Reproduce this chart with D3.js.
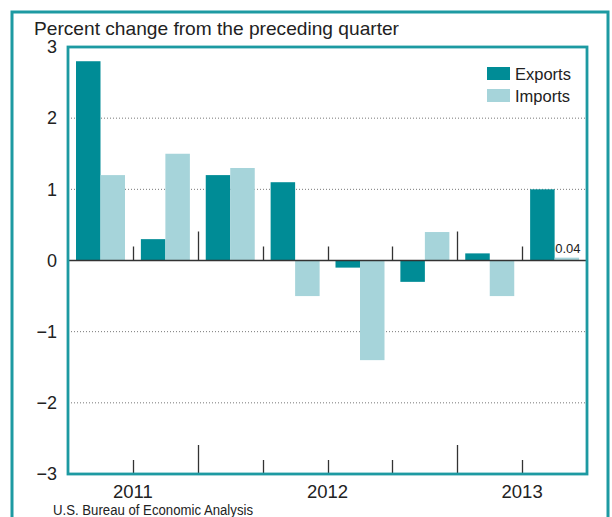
<!DOCTYPE html>
<html><head><meta charset="utf-8">
<script src="https://cdn.jsdelivr.net/npm/d3@7"></script>
<style>body{margin:0;background:#fff;}svg{display:block;font-family:"Liberation Sans",Arial,sans-serif;}</style>
</head><body>
<script>
const quarters = ["2011Q1","2011Q2","2011Q3","2011Q4","2012Q1","2012Q2","2012Q3","2012Q4"];
const exportsVals = [2.8, 0.3, 1.2, 1.1, -0.1, -0.3, 0.1, 1.0];
const importsVals = [1.2, 1.5, 1.3, -0.5, -1.4, 0.4, -0.5, 0.04];
const yTicks = [3, 2, 1, 0, -1, -2, -3];
const yearLabels = [{label:"2011", at:1},{label:"2012", at:4},{label:"2013", at:7}];
const tallTicks = [2, 6];
const seriesNames = ["Exports","Imports"];

const W=612,H=517;
const teal="#008C96", light="#A6D4DA", frame="#1D9AA2";
const svg=d3.select("body").append("svg").attr("width",W).attr("height",H);

// outer frame
svg.append("rect").attr("x",12).attr("y",12).attr("width",596).attr("height",520)
  .attr("fill","none").attr("stroke",frame).attr("stroke-width",3);

svg.append("text").attr("x",34).attr("y",35).attr("font-size",18.5).attr("fill","#222")
  .attr("textLength",365).attr("lengthAdjust","spacingAndGlyphs")
  .text("Percent change from the preceding quarter");

const L=68,R=587,T=47,B=474;
const x=d3.scaleBand().domain(quarters).range([L,R]).paddingInner(0).paddingOuter(0);
const y=d3.scaleLinear().domain([-3,3]).range([B,T]);
const x1=d3.scaleBand().domain(seriesNames).range([8,8+49]);

// gridlines
svg.append("g").selectAll("line").data(yTicks.filter(d=>d!==0&&d!==3&&d!==-3)).join("line")
  .attr("x1",L).attr("x2",R).attr("y1",d=>y(d)).attr("y2",d=>y(d))
  .attr("stroke","#777").attr("stroke-width",1).attr("stroke-dasharray","1,2");

// y labels
const yAxis=d3.axisLeft(y).tickValues(yTicks).tickSize(0).tickPadding(11)
  .tickFormat(d=>d<0?"\u2212"+Math.abs(d):String(d));
const ya=svg.append("g").attr("transform",`translate(${L},0)`).call(yAxis);
ya.select(".domain").remove();
ya.selectAll("text").attr("font-size",18).attr("fill","#222").attr("font-family","Liberation Sans, Arial, sans-serif");

// bars
const g=svg.append("g");
quarters.forEach((q,i)=>{
  [exportsVals[i],importsVals[i]].forEach((v,j)=>{
    g.append("rect").attr("x",x(q)+x1(seriesNames[j])).attr("width",x1.bandwidth())
      .attr("y",y(Math.max(0,v))).attr("height",Math.abs(y(v)-y(0)))
      .attr("fill",j===0?teal:light);
  });
});

// zero line
svg.append("line").attr("x1",L).attr("x2",R).attr("y1",y(0)).attr("y2",y(0)).attr("stroke","#333").attr("stroke-width",1.3);

// boundary ticks
const bounds=d3.range(1,quarters.length);
bounds.forEach(b=>{
  const bx=Math.round(x(quarters[b]))+0.5;
  const tall=tallTicks.includes(b);
  svg.append("line").attr("x1",bx).attr("x2",bx).attr("y1",y(0)).attr("y2",y(0)-(tall?29:14)).attr("stroke","#333").attr("stroke-width",1.3);
  svg.append("line").attr("x1",bx).attr("x2",bx).attr("y1",B).attr("y2",B-(tall?29:14)).attr("stroke","#333").attr("stroke-width",1.3);
});

// plot frame
svg.append("rect").attr("x",L).attr("y",T).attr("width",R-L).attr("height",B-T)
  .attr("fill","none").attr("stroke",frame).attr("stroke-width",2.8);

// year labels
yearLabels.forEach(d=>{
  svg.append("text").attr("x",x(quarters[d.at])).attr("y",498).attr("text-anchor","middle")
    .attr("font-size",18.5).attr("fill","#222").text(d.label);
});

// value label
svg.append("text").attr("x",x(quarters[7])+x1("Imports")+x1.bandwidth()/2+1).attr("y",y(importsVals[7])-5)
  .attr("text-anchor","middle").attr("font-size",13).attr("fill","#222").text(importsVals[7].toFixed(2));

// legend
seriesNames.forEach((n,i)=>{
  svg.append("rect").attr("x",487).attr("y",67+i*22).attr("width",23).attr("height",13).attr("fill",i===0?teal:light);
  svg.append("text").attr("x",515).attr("y",80+i*22).attr("font-size",16.5).attr("fill","#222").text(n);
});

svg.append("text").attr("x",53).attr("y",515).attr("font-size",14).attr("fill","#222")
  .attr("textLength",200).attr("lengthAdjust","spacingAndGlyphs")
  .text("U.S. Bureau of Economic Analysis");
</script>
</body></html>
